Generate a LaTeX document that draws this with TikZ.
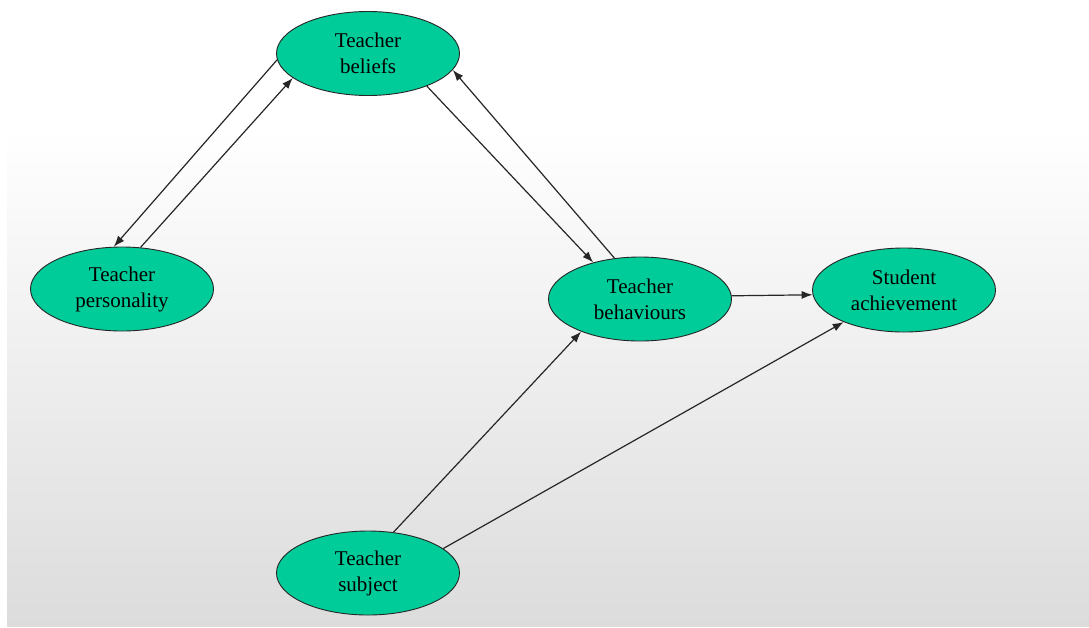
\documentclass[tikz,border=0pt]{standalone}
\usepackage{fontspec}
\setmainfont{Liberation Serif}
\usetikzlibrary{shapes.geometric,arrows.meta}
\definecolor{nodegreen}{RGB}{0,204,153}
\definecolor{bgbottom}{RGB}{220,220,220}
\begin{document}
\begin{tikzpicture}[x=1pt,y=-1pt,
  ell/.style={ellipse,draw=black!85,line width=0.9pt,fill=nodegreen,
    minimum width=183pt,minimum height=84pt,inner sep=0pt,align=center,
    font=\fontsize{21}{26}\selectfont},
  link/.style={draw=black!85,line width=1.2pt,-{Latex[length=11pt,width=8pt]}}]
  % page and shaded backdrop
  \useasboundingbox (0,0) rectangle (1089,627);
  \fill[white] (0,0) rectangle (1089,627);
  \shade[top color=white,bottom color=bgbottom] (7,128) rectangle (1089,626);

  % factors
  \node[ell] (bel) at (368,53.5) {Teacher\\beliefs};
  \node[ell] (per) at (122,289) {Teacher\\personality};
  \node[ell] (beh) at (640,299) {Teacher\\behaviours};
  \node[ell] (ach) at (904,290) {Student\\achievement};
  \node[ell] (sub) at (368,573) {Teacher\\subject};

  % influences
  \draw[link] (bel.184) -- (per.101);
  \draw[link] (per.66) -- (bel.198);
  \draw[link] (bel.331.6) -- (beh.142.5);
  \draw[link] (beh.122.7) -- (bel.349);
  \draw[link] (beh.2.5) -- (ach.183);
  \draw[link] (sub.58.6) -- (beh.209);
  \draw[link] (sub.18.7) -- (ach.208);
\end{tikzpicture}
\end{document}
